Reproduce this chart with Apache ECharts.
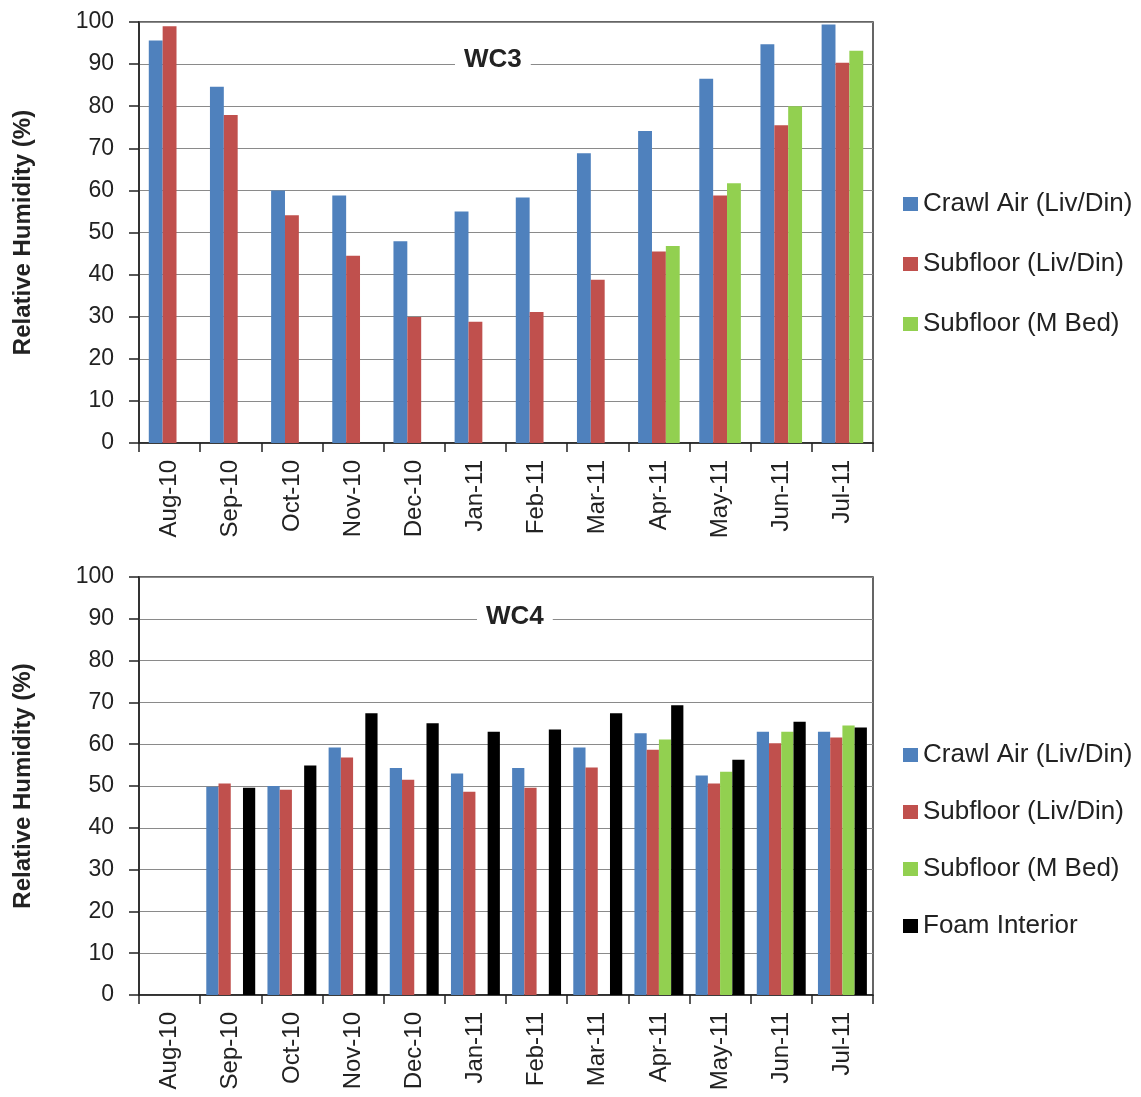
<!DOCTYPE html>
<html>
<head>
<meta charset="utf-8">
<script src="https://cdn.jsdelivr.net/npm/echarts@6/dist/echarts.min.js"></script>
<style>
  html, body { margin: 0; padding: 0; background: #fff; }
  #main { width: 1141px; height: 1097px; }
</style>
</head>
<body>
<div id="main"></div>
<script>
var months = ['Aug-10','Sep-10','Oct-10','Nov-10','Dec-10','Jan-11','Feb-11','Mar-11','Apr-11','May-11','Jun-11','Jul-11'];
var yTicks = [0,10,20,30,40,50,60,70,80,90,100];

// WC3
var wc3Crawl  = [95.6, 84.6, 60.0, 58.8, 47.9, 55.0, 58.3, 68.8, 74.1, 86.5, 94.7, 99.4];
var wc3SubLiv = [99.0, 77.9, 54.1, 44.5, 29.9, 28.8, 31.1, 38.8, 45.5, 58.8, 75.5, 90.3];
var wc3SubBed = [null, null, null, null, null, null, null, null, 46.8, 61.7, 80.0, 93.2];

// WC4
var wc4Crawl  = [null, 49.8, 50.0, 59.2, 54.3, 53.0, 54.3, 59.2, 62.6, 52.5, 63.0, 63.0];
var wc4SubLiv = [null, 50.6, 49.1, 56.8, 51.5, 48.6, 49.6, 54.4, 58.7, 50.6, 60.2, 61.6];
var wc4SubBed = [null, null, null, null, null, null, null, null, 61.1, 53.4, 63.0, 64.5];
var wc4Foam   = [null, 49.6, 54.9, 67.4, 65.0, 63.0, 63.5, 67.4, 69.3, 56.3, 65.4, 64.0];

var names = ['Crawl Air (Liv/Din)', 'Subfloor (Liv/Din)', 'Subfloor (M Bed)', 'Foam Interior'];
var colors = ['#4f81bd', '#c0504d', '#92d050', '#000000'];

var chart = echarts.init(document.getElementById('main'));

var font = 'Liberation Sans, Arial, sans-serif';

function xAxisCfg(gi) {
  return {
    type: 'category',
    gridIndex: gi,
    data: months,
    axisLine: { lineStyle: { color: '#222', width: 1.5 } },
    axisTick: { show: true, length: 9, lineStyle: { color: '#222', width: 1.5 } },
    axisLabel: { rotate: 90, fontSize: 24, color: '#222', fontFamily: font, margin: 17 }
  };
}
function yAxisCfg(gi) {
  return {
    type: 'value',
    gridIndex: gi,
    min: yTicks[0],
    max: yTicks[yTicks.length - 1],
    interval: 10,
    name: 'Relative Humidity (%)',
    nameLocation: 'middle',
    nameGap: 104,
    nameTextStyle: { fontSize: 24, fontWeight: 'bold', color: '#222', fontFamily: font },
    axisLine: { show: true, lineStyle: { color: '#222', width: 1.5 } },
    axisTick: { show: true, length: 10, lineStyle: { color: '#222', width: 1.5 } },
    axisLabel: { fontSize: 23, color: '#222', fontFamily: font, margin: 25 },
    splitLine: { lineStyle: { color: '#8a8a8a', width: 1.2 } }
  };
}

function barSeries(name, data, idx, gi, catGap) {
  return {
    name: name,
    type: 'bar',
    xAxisIndex: gi,
    yAxisIndex: gi,
    data: data,
    barGap: '0%',
    barCategoryGap: catGap,
    itemStyle: { color: colors[idx] }
  };
}

var option = {
  animation: false,
  textStyle: { fontFamily: font },
  title: [
    {
      text: 'WC3', left: 455, top: 45,
      backgroundColor: '#fff', padding: [2, 9],
      textStyle: { fontSize: 26, fontWeight: 'bold', color: '#222', fontFamily: font }
    },
    {
      text: 'WC4', left: 477, top: 602,
      backgroundColor: '#fff', padding: [2, 9],
      textStyle: { fontSize: 26, fontWeight: 'bold', color: '#222', fontFamily: font }
    }
  ],
  legend: [
    {
      data: names.slice(0, 3),
      orient: 'vertical', left: 898, top: 186,
      icon: 'rect', itemWidth: 15, itemHeight: 14, itemGap: 34,
      textStyle: { fontSize: 26, color: '#222', fontFamily: font }
    },
    {
      data: names,
      orient: 'vertical', left: 898, top: 737,
      icon: 'rect', itemWidth: 15, itemHeight: 14, itemGap: 31,
      textStyle: { fontSize: 26, color: '#222', fontFamily: font }
    }
  ],
  grid: [
    { left: 139, top: 22, width: 734, height: 421, show: true, borderColor: '#333', borderWidth: 1.5, backgroundColor: 'transparent' },
    { left: 139, top: 577, width: 734, height: 418, show: true, borderColor: '#333', borderWidth: 1.5, backgroundColor: 'transparent' }
  ],
  xAxis: [xAxisCfg(0), xAxisCfg(1)],
  yAxis: [yAxisCfg(0), yAxisCfg(1)],
  series: [
    barSeries(names[0], wc3Crawl, 0, 0, '32%'),
    barSeries(names[1], wc3SubLiv, 1, 0, '32%'),
    barSeries(names[2], wc3SubBed, 2, 0, '32%'),
    barSeries(names[0], wc4Crawl, 0, 1, '20%'),
    barSeries(names[1], wc4SubLiv, 1, 1, '20%'),
    barSeries(names[2], wc4SubBed, 2, 1, '20%'),
    barSeries(names[3], wc4Foam, 3, 1, '20%')
  ]
};

chart.setOption(option);
</script>
</body>
</html>
